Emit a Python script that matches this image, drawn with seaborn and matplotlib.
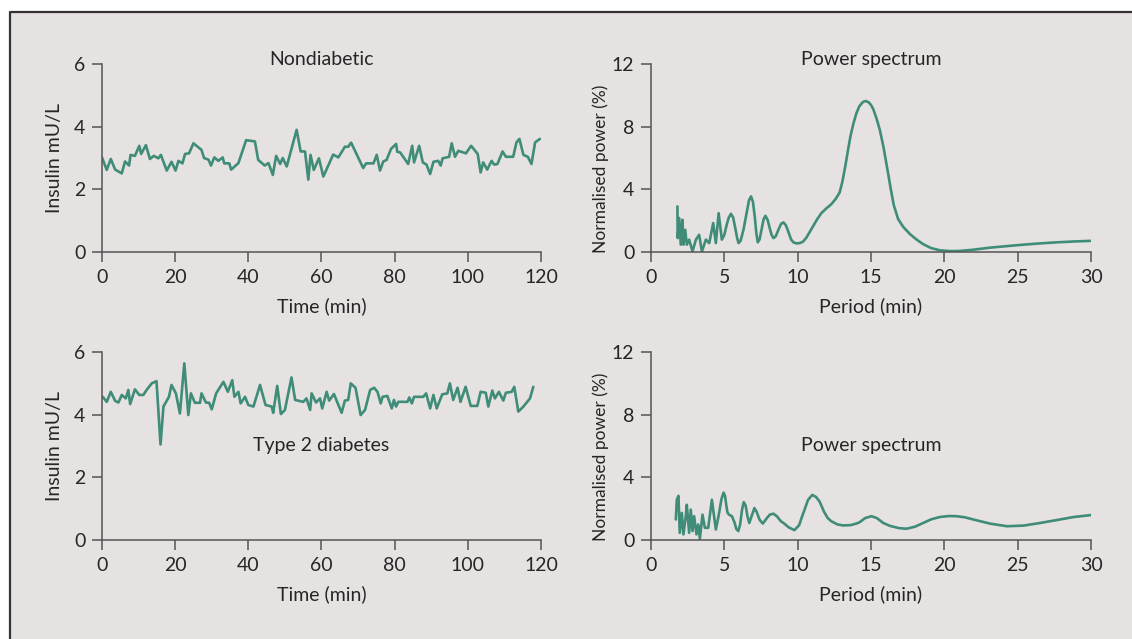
import matplotlib
matplotlib.use("Agg")
import matplotlib.pyplot as plt
import seaborn as sns
import pandas as pd
from matplotlib.patches import Rectangle
from matplotlib.lines import Line2D

# insulin time series (min, mU/L)
nd_time = [0, 1.3, 2.4, 3.6, 5.4, 6.3, 7.4, 7.8, 9.0, 10.2, 10.7, 12.0, 13.1, 14.2, 15.4, 16.1,
           17.7, 19.0, 20.1, 20.9, 22.0, 22.7, 23.8, 25.0, 27.2, 27.9, 29.1, 29.8, 30.7, 31.8,
           33.0, 33.4, 34.8, 35.3, 37.3, 39.4, 41.8, 42.7, 44.5, 45.5, 46.7, 47.6, 48.7, 49.4,
           50.5, 53.2, 54.3, 55.5, 56.4, 57.0, 57.9, 59.3, 60.5, 63.2, 64.6, 66.4, 67.3, 68.1,
           71.4, 72.2, 74.2, 75.1, 76.0, 76.9, 77.8, 79.0, 80.4, 80.7, 81.5, 83.7, 84.8, 85.3,
           86.7, 87.7, 88.7, 89.7, 90.6, 91.9, 92.6, 93.1, 94.9, 95.6, 96.5, 97.4, 99.5, 100.9,
           102.7, 103.5, 104.2, 105.3, 106.5, 107.2, 108.1, 109.5, 110.4, 112.4, 113.3, 114.1,
           115.2, 116.4, 117.4, 118.4, 119.7]
nd_insulin = [3.02, 2.62, 2.97, 2.63, 2.51, 2.89, 2.76, 3.1, 3.07, 3.39, 3.13, 3.41, 2.97, 3.07,
              2.99, 3.1, 2.6, 2.88, 2.6, 2.91, 2.83, 3.13, 3.15, 3.47, 3.26, 3.0, 2.95, 2.76,
              3.02, 2.91, 3.02, 2.83, 2.83, 2.63, 2.84, 3.57, 3.53, 2.94, 2.76, 2.84, 2.46,
              3.07, 2.81, 3.0, 2.73, 3.9, 3.21, 3.21, 2.31, 3.1, 2.62, 2.99, 2.41, 3.11, 3.02,
              3.36, 3.36, 3.49, 2.68, 2.83, 2.83, 3.1, 2.6, 2.89, 2.94, 3.29, 3.45, 3.2, 3.18,
              2.81, 3.39, 2.86, 3.39, 2.86, 2.79, 2.49, 2.88, 2.91, 2.76, 2.99, 3.04, 3.47,
              3.04, 3.23, 3.15, 3.39, 3.13, 2.54, 2.86, 2.63, 2.91, 2.79, 2.81, 3.21, 3.04,
              3.04, 3.5, 3.61, 3.1, 3.04, 2.81, 3.5, 3.61]

t2_time = [0.2, 1.3, 2.4, 3.6, 4.5, 5.4, 6.5, 7.2, 7.7, 9.0, 10.2, 11.3, 12.2, 13.6, 14.9, 16.0,
           16.8, 18.3, 19.0, 20.2, 21.3, 22.5, 23.6, 24.3, 25.4, 26.8, 27.2, 28.4, 29.3, 30.0,
           31.2, 33.2, 34.4, 35.6, 36.2, 37.3, 37.9, 39.1, 40.0, 41.4, 43.2, 44.7, 46.4, 46.8,
           47.9, 48.9, 50.0, 51.8, 52.8, 55.0, 55.9, 56.9, 57.3, 58.5, 59.6, 60.2, 61.4, 62.1,
           63.4, 65.5, 66.4, 67.3, 68.0, 69.3, 70.7, 71.9, 73.3, 74.4, 75.3, 76.2, 76.7, 78.0,
           79.2, 79.8, 80.4, 81.0, 83.5, 84.0, 84.7, 85.3, 87.8, 88.6, 89.7, 90.6, 91.5, 93.0,
           94.4, 95.1, 96.0, 97.2, 98.0, 99.4, 100.8, 102.6, 103.5, 104.9, 105.6, 106.7, 107.4,
           108.5, 109.7, 110.4, 112.0, 112.7, 113.8, 115.2, 117.0, 117.9]
t2_insulin = [4.57, 4.41, 4.73, 4.44, 4.39, 4.63, 4.52, 4.79, 4.34, 4.81, 4.63, 4.63, 4.79, 5.0,
              5.07, 3.05, 4.26, 4.57, 4.95, 4.68, 4.04, 5.64, 3.99, 4.68, 4.38, 4.38, 4.68,
              4.39, 4.38, 4.17, 4.68, 5.05, 4.73, 5.1, 4.57, 4.73, 4.36, 4.57, 4.31, 4.26, 4.95,
              4.31, 4.26, 4.06, 4.92, 4.02, 4.15, 5.19, 4.47, 4.41, 4.52, 4.15, 4.68, 4.39, 4.52,
              4.2, 4.73, 4.45, 4.66, 4.06, 4.45, 4.47, 5.0, 4.86, 3.99, 4.15, 4.79, 4.86, 4.73,
              4.36, 4.57, 4.6, 4.2, 4.47, 4.26, 4.41, 4.41, 4.55, 4.36, 4.57, 4.57, 4.68, 4.2,
              4.63, 4.2, 4.65, 4.68, 5.0, 4.47, 4.86, 4.41, 4.89, 4.28, 4.28, 4.73, 4.7, 4.26,
              4.77, 4.52, 4.73, 4.45, 4.7, 4.73, 4.89, 4.1, 4.26, 4.52, 4.89]

# power spectra (period in min, normalised power in %)
nd_period = [1.80, 1.82, 1.92, 2.03, 2.14, 2.21, 2.33, 2.44, 2.60, 2.83, 3.06, 3.28, 3.47, 3.74,
             3.97, 4.24, 4.42, 4.61, 4.83, 5.0, 5.15, 5.3, 5.45, 5.6, 5.75, 5.87, 5.97, 6.1,
             6.3, 6.5, 6.68, 6.82, 6.95, 7.08, 7.18, 7.28, 7.4, 7.55, 7.68, 7.80, 7.95, 8.1,
             8.22, 8.35, 8.5, 8.7, 8.87, 9.03, 9.2, 9.4, 9.55, 9.71, 9.9, 10.13, 10.35, 10.58,
             10.8, 11.04, 11.3, 11.61, 11.95, 12.29, 12.6, 12.86, 13.05, 13.25, 13.43, 13.6,
             13.8, 14.0, 14.2, 14.45, 14.64, 14.85, 15.0, 15.14, 15.35, 15.6, 15.85, 16.0,
             16.17, 16.35, 16.55, 16.85, 17.2, 17.65, 18.1, 18.56, 19.1, 19.7, 20.4, 21.07,
             22.0, 23.12, 24.3, 25.4, 26.5, 27.69, 29.0, 30.19]
nd_power = [2.91, 0.89, 2.17, 0.47, 2.06, 0.47, 1.42, 0.47, 0.79, 0.04, 0.79, 1.10, 0.04, 0.79,
            0.57, 1.85, 0.57, 2.48, 0.79, 1.1, 1.7, 2.2, 2.44, 2.2, 1.5, 0.9, 0.57, 0.7,
            1.4, 2.4, 3.3, 3.55, 3.2, 2.2, 1.2, 0.62, 0.8, 1.5, 2.1, 2.31, 2.05, 1.5,
            1.1, 0.89, 1.0, 1.45, 1.8, 1.89, 1.7, 1.2, 0.8, 0.62, 0.55, 0.57, 0.65, 0.9,
            1.25, 1.63, 2.05, 2.48, 2.78, 3.05, 3.4, 3.8, 4.5, 5.5, 6.5, 7.4,
            8.2, 8.85, 9.3, 9.58, 9.64, 9.55, 9.38, 9.15, 8.6, 7.8, 6.7, 5.9,
            5.0, 4.0, 3.0, 2.1, 1.6, 1.15, 0.8, 0.5, 0.25, 0.11, 0.06, 0.07,
            0.15, 0.28, 0.38, 0.47, 0.55, 0.62, 0.68, 0.72]

t2_period = [1.69, 1.76, 1.87, 1.96, 2.10, 2.21, 2.37, 2.44, 2.60, 2.71, 2.83, 2.94, 3.10, 3.22,
             3.33, 3.51, 3.67, 3.90, 4.15, 4.42, 4.6, 4.8, 4.95, 5.05, 5.15, 5.22, 5.35, 5.52,
             5.7, 5.82, 5.95, 6.08, 6.2, 6.32, 6.45, 6.58, 6.70, 6.85, 7.05, 7.2, 7.4, 7.62,
             7.9, 8.1, 8.35, 8.6, 8.85, 9.03, 9.4, 9.78, 10.1, 10.3, 10.47, 10.7, 10.99, 11.25,
             11.49, 11.8, 12.05, 12.29, 12.7, 13.09, 13.6, 14.0, 14.23, 14.6, 15.03, 15.4,
             15.83, 16.3, 16.9, 17.42, 18.0, 18.56, 19.1, 19.7, 20.3, 20.84, 21.4, 21.98, 23.1,
             24.26, 25.4, 26.54, 27.7, 28.83, 30.24]
t2_power = [1.31, 2.57, 2.82, 0.46, 1.73, 0.36, 1.52, 2.25, 0.46, 1.94, 0.57, 1.52, 0.36, 0.99,
            0.08, 1.62, 0.78, 0.78, 2.57, 0.67, 1.5, 2.6, 3.03, 2.8, 2.1, 1.73, 1.6, 1.52,
            1.1, 0.7, 0.57, 1.0, 1.9, 2.42, 2.2, 1.5, 1.09, 1.5, 2.04, 1.8, 1.3, 1.05,
            1.4, 1.62, 1.68, 1.5, 1.2, 1.09, 0.8, 0.63, 0.95, 1.5, 1.94, 2.55, 2.88, 2.75,
            2.46, 1.8, 1.4, 1.2, 1.0, 0.93, 0.95, 1.05, 1.14, 1.4, 1.52, 1.4,
            1.09, 0.9, 0.76, 0.72, 0.85, 1.09, 1.32, 1.47, 1.53, 1.52, 1.45, 1.31, 1.05,
            0.88, 0.92, 1.09, 1.28, 1.47, 1.62]

teal = "#3f8c79"
panel = "#e6e2e1"
ink = "#262626"
spine_c = "#555555"

sns.set_style("ticks")
plt.rcParams["font.family"] = ["Lato", "DejaVu Sans"]
plt.rcParams["axes.edgecolor"] = spine_c
plt.rcParams["xtick.color"] = spine_c
plt.rcParams["ytick.color"] = spine_c
plt.rcParams["xtick.labelcolor"] = ink
plt.rcParams["ytick.labelcolor"] = ink

fig = plt.figure(figsize=(11.32, 6.39), dpi=100)
fig.patch.set_facecolor("white")
x0, y0 = 10 / 1132, 1 - 12 / 639
fig.patches.append(Rectangle((x0, 0), 1 - x0, y0, transform=fig.transFigure,
                             facecolor=panel, edgecolor="none", zorder=-10))
fig.lines.append(Line2D([x0, x0, 1], [0, y0, y0], transform=fig.transFigure,
                        color="#333333", linewidth=1.6, zorder=-9))

w, h = 0.3878, 0.2942
axes = {
    "nd": fig.add_axes([0.0901, 0.6056, w, h]),
    "nd_ps": fig.add_axes([0.5751, 0.6056, 0.3887, h]),
    "t2": fig.add_axes([0.0901, 0.1549, w, h]),
    "t2_ps": fig.add_axes([0.5751, 0.1549, 0.3887, h]),
}

series = {
    "nd": pd.DataFrame({"x": nd_time, "y": nd_insulin}),
    "t2": pd.DataFrame({"x": t2_time, "y": t2_insulin}),
    "nd_ps": pd.DataFrame({"x": nd_period, "y": nd_power}),
    "t2_ps": pd.DataFrame({"x": t2_period, "y": t2_power}),
}

titles = {"nd": ("Nondiabetic", 1.025), "t2": ("Type 2 diabetes", 0.505),
          "nd_ps": ("Power spectrum", 1.025), "t2_ps": ("Power spectrum", 0.505)}

fs = 14
for key, ax in axes.items():
    ax.set_facecolor("none")
    ax.set_zorder(1)
    sns.lineplot(data=series[key], x="x", y="y", ax=ax, color=teal, linewidth=1.9,
                 sort=False, estimator=None)
    if key.endswith("_ps"):
        ax.set_xlim(0, 30)
        ax.set_ylim(0, 12)
        ax.set_xticks(range(0, 31, 5))
        ax.set_yticks(range(0, 13, 4))
        ax.set_xlabel("Period (min)", fontsize=fs, color=ink, labelpad=8)
        ax.set_ylabel("Normalised power (%)", fontsize=12.5, color=ink, labelpad=2,
                      y=0.44)
    else:
        ax.set_xlim(0, 120)
        ax.set_ylim(0, 6)
        ax.set_xticks(range(0, 121, 20))
        ax.set_yticks(range(0, 7, 2))
        ax.set_xlabel("Time (min)", fontsize=fs, color=ink, labelpad=8)
        ax.set_ylabel("Insulin mU/L", fontsize=fs, color=ink, labelpad=8)
    ax.tick_params(labelsize=fs, length=7, width=1.1, pad=5)
    for s in ["top", "right"]:
        ax.spines[s].set_visible(False)
    for s in ["left", "bottom"]:
        ax.spines[s].set_linewidth(1.1)
    text, ty = titles[key]
    ax.text(0.5, ty, text, transform=ax.transAxes, ha="center", va="center",
            fontsize=fs, color=ink)

fig.savefig("out.png", dpi=100)
